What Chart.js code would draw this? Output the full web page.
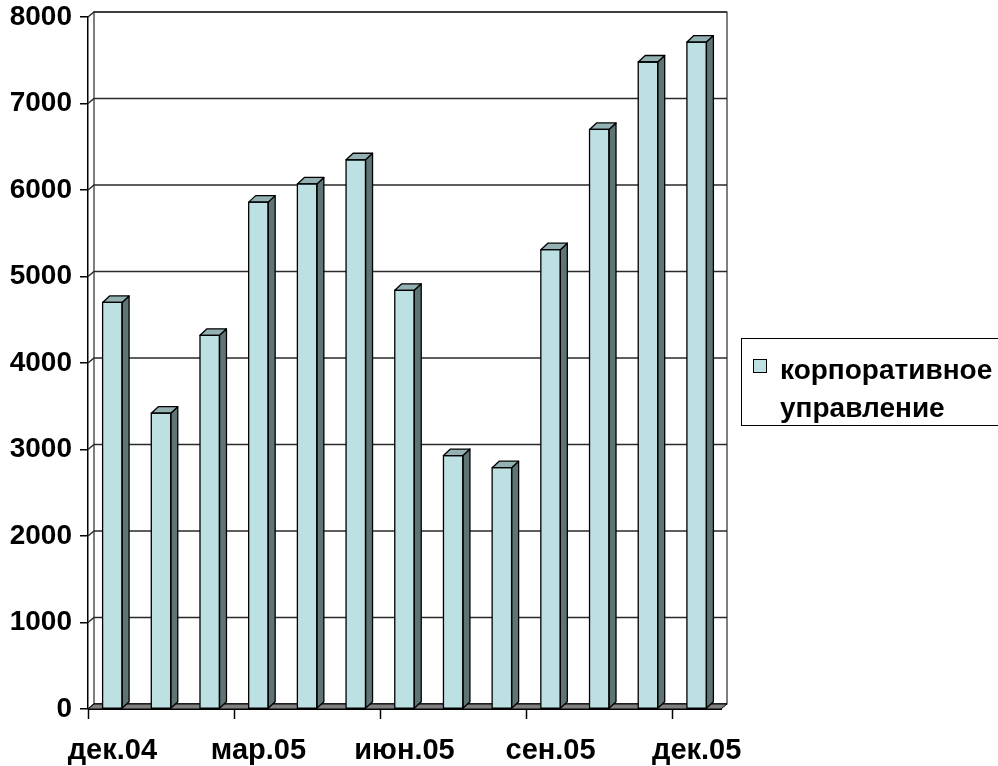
<!DOCTYPE html>
<html>
<head>
<meta charset="utf-8">
<script src="https://cdn.jsdelivr.net/npm/chart.js@4/dist/chart.umd.min.js"></script>
<style>
  html, body { margin: 0; padding: 0; background: #fff; }
  #wrap { width: 998px; height: 766px; position: relative; }
</style>
</head>
<body>
<div id="wrap"><canvas id="c"></canvas></div>
<script>
// Monthly figures, Dec 2004 – Dec 2005
const months = ['дек.04', 'янв.05', 'фев.05', 'мар.05', 'апр.05', 'май.05', 'июн.05',
                'июл.05', 'авг.05', 'сен.05', 'окт.05', 'ноя.05', 'дек.05'];
const governance = [4700, 3420, 4320, 5860, 6070, 6350, 4840, 2930, 2790, 5310, 6700, 7480, 7710];
const seriesName = 'корпоративное управление';
const yMin = 0, yMax = 8000, yStep = 1000;
const labelEvery = 3;

const FACE = '#bde0e3', SIDE = '#5f7575', TOP = '#93b0b2', FLOOR = '#808080';
const FONT = '"Liberation Sans", Arial, sans-serif';

// depth of the walls/floor and of the columns (pseudo-3D offset)
const WALL_DX = 6, WALL_DY = -5;
const BAR_DX = 7, BAR_DY = -6.5;

function poly(ctx, pts, fill, stroke, lw) {
  ctx.beginPath();
  ctx.moveTo(pts[0][0], pts[0][1]);
  for (let i = 1; i < pts.length; i++) ctx.lineTo(pts[i][0], pts[i][1]);
  ctx.closePath();
  if (fill) { ctx.fillStyle = fill; ctx.fill(); }
  if (stroke) { ctx.strokeStyle = stroke; ctx.lineWidth = lw || 1; ctx.stroke(); }
}

const box3d = {
  id: 'box3d',
  beforeDatasetsDraw(chart) {
    const { ctx, chartArea: a, scales: { x, y } } = chart;
    ctx.save();
    // back wall
    ctx.strokeStyle = '#000';
    ctx.lineWidth = 1;
    ctx.strokeRect(a.left + WALL_DX, a.top + WALL_DY, a.right - a.left, a.bottom - a.top);
    // gridlines on the back wall, joined to the front axis across the side wall
    ctx.strokeStyle = '#2a2a2a';
    ctx.lineWidth = 1.5;
    y.ticks.forEach(t => {
      const py = y.getPixelForValue(t.value);
      ctx.beginPath();
      ctx.moveTo(a.left, py);
      ctx.lineTo(a.left + WALL_DX, py + WALL_DY);
      ctx.lineTo(a.right + WALL_DX, py + WALL_DY);
      ctx.stroke();
    });
    // floor
    poly(ctx, [[a.left, a.bottom], [a.right, a.bottom], [a.right + WALL_DX, a.bottom + WALL_DY],
               [a.left + WALL_DX, a.bottom + WALL_DY]], FLOOR, '#000', 1);
    // category tick marks every third month
    const half = (x.getPixelForValue(1) - x.getPixelForValue(0)) / 2;
    ctx.strokeStyle = '#000';
    ctx.lineWidth = 1.5;
    for (let i = 0; i < months.length; i += labelEvery) {
      const px = Math.round(x.getPixelForValue(i) - half) + 0.5;
      ctx.beginPath();
      ctx.moveTo(px, a.bottom);
      ctx.lineTo(px, a.bottom + 10);
      ctx.stroke();
    }
    ctx.restore();
  },
  afterDatasetsDraw(chart) {
    const { ctx } = chart;
    ctx.save();
    ctx.lineJoin = 'round';
    chart.getDatasetMeta(0).data.forEach(bar => {
      const { x, y, base, width } = bar.getProps(['x', 'y', 'base', 'width'], true);
      const l = x - width / 2, r = x + width / 2;
      poly(ctx, [[r, y], [r + BAR_DX, y + BAR_DY], [r + BAR_DX, base + BAR_DY], [r, base]], SIDE, '#000', 1.3);
      poly(ctx, [[l, y], [l + BAR_DX, y + BAR_DY], [r + BAR_DX, y + BAR_DY], [r, y]], TOP, '#000', 1.3);
      ctx.strokeStyle = '#000';
      ctx.lineWidth = 1.3;
      ctx.strokeRect(l, y, width, base - y);
    });
    ctx.restore();
  },
  afterDraw(chart) {
    // legend box on the right
    const { ctx } = chart;
    const ds = chart.data.datasets[0];
    ctx.save();
    ctx.strokeStyle = '#000';
    ctx.lineWidth = 1;
    ctx.strokeRect(741.5, 338.5, 300, 87);
    ctx.fillStyle = FACE;
    ctx.fillRect(753, 359, 14, 14);
    ctx.strokeRect(753.5, 359.5, 13, 13);
    ctx.fillStyle = '#000';
    ctx.font = 'bold 28px ' + FONT;
    ctx.textBaseline = 'alphabetic';
    ctx.textAlign = 'left';
    const words = ds.label.split(' ');
    ctx.fillText(words[0], 780, 379);
    ctx.fillText(words.slice(1).join(' '), 780, 417);
    ctx.restore();
  }
};

new Chart(document.getElementById('c'), {
  type: 'bar',
  data: {
    labels: months,
    datasets: [{
      label: seriesName,
      data: governance,
      backgroundColor: FACE,
      borderWidth: 0,
      categoryPercentage: 1,
      barPercentage: 0.4
    }]
  },
  options: {
    responsive: true,
    maintainAspectRatio: false,
    animation: false,
    events: [],
    layout: { padding: { left: 0, right: 277, top: 17, bottom: 0 } },
    plugins: { legend: { display: false }, tooltip: { enabled: false } },
    scales: {
      x: {
        offset: true,
        grid: { display: false },
        border: { display: true, color: '#000', width: 1 },
        ticks: {
          autoSkip: false, maxRotation: 0, minRotation: 0,
          padding: 17, color: '#000',
          font: { family: FONT, size: 29, weight: 'bold' },
          callback: (v, i) => (i % labelEvery === 0 ? months[i] : '')
        },
        afterFit: s => { s.height = 57; s.paddingLeft = 0; s.paddingRight = 0; }
      },
      y: {
        min: yMin, max: yMax,
        grid: { drawOnChartArea: false, tickLength: 8, color: '#000', lineWidth: 1.5 },
        border: { display: true, color: '#000', width: 1.5 },
        ticks: {
          stepSize: yStep, padding: 8, color: '#000',
          font: { family: FONT, size: 28, weight: 'bold' },
          callback: v => String(v)
        },
        afterFit: s => { s.width = 88; s.paddingTop = 0; s.paddingBottom = 0; }
      }
    }
  },
  plugins: [box3d]
});
</script>
</body>
</html>
